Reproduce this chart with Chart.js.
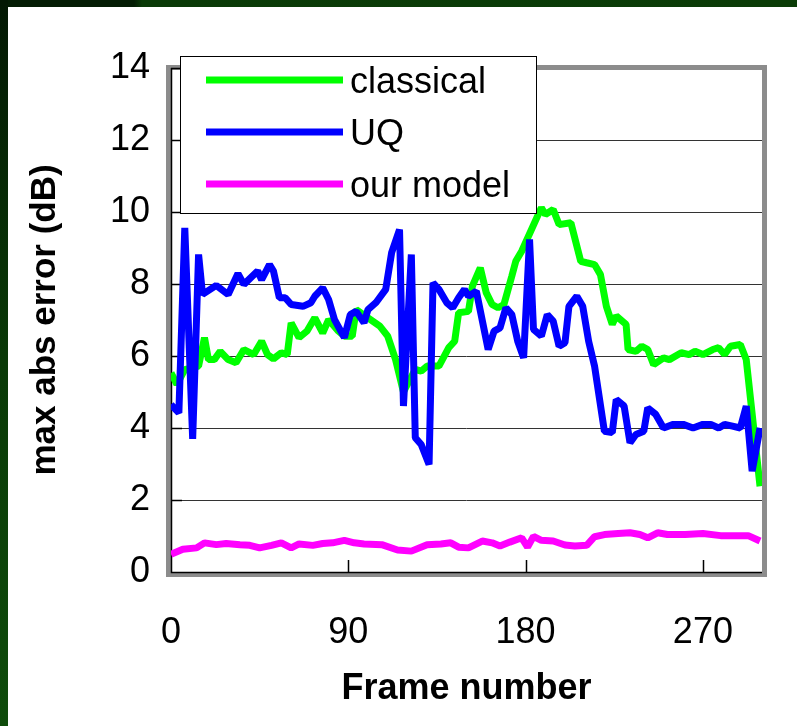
<!DOCTYPE html>
<html>
<head>
<meta charset="utf-8">
<title>max abs error</title>
<script src="https://cdn.jsdelivr.net/npm/chart.js@4.4.0/dist/chart.umd.min.js"></script>
<style>
  html, body { margin: 0; padding: 0; }
  body { width: 797px; height: 726px; position: relative; overflow: hidden; background: #fff; }
  #topbar {
    position: absolute; left: 0; top: 0; width: 797px; height: 7px;
    background: linear-gradient(90deg, #041d04 0, #041d04 134px, #0a3a07 142px, #0b3c07 100%);
  }
  #sidebar {
    position: absolute; left: 0; top: 0; width: 8px; height: 726px;
    background: linear-gradient(180deg, #031803 0, #0a3a07 50%, #0f4c0b 100%);
  }
  #wrap { position: absolute; left: 8px; top: 7px; width: 789px; height: 719px; background: #fff; }
</style>
</head>
<body>
<div id="topbar"></div>
<div id="sidebar"></div>
<div id="wrap"><canvas id="errChart" width="789" height="719"></canvas></div>

<script>
// frame numbers and max abs error (dB) per method
const classicalFrames = [0, 3, 7, 14, 17, 19, 22, 25, 29, 33, 37, 42, 46, 49, 52, 56, 59, 61, 65, 69,
  73, 77, 80, 85, 88, 92, 94, 100, 106, 110, 114, 118, 124, 127, 130, 136, 141, 144, 146, 151,
  153, 157, 160, 163, 166, 169, 173, 175, 178, 188, 190, 194, 197, 203, 208, 211, 215, 218, 221, 224,
  226, 231, 232, 236, 239, 242, 245, 250, 253, 259, 263, 266, 270, 275, 278, 281, 284, 289, 292, 299];
const classicalErr = [5.53, 5.21, 5.62, 5.72, 6.51, 5.90, 5.90, 6.13, 5.90, 5.81, 6.18, 6.04, 6.41, 6.04, 5.92, 6.09, 6.04, 6.92, 6.51, 6.69,
  7.06, 6.64, 7.01, 6.69, 6.55, 6.55, 7.29, 7.06, 6.83, 6.55, 5.90, 5.00, 5.63, 5.58, 5.72, 5.72, 6.23, 6.41, 7.20, 7.24,
  7.94, 8.45, 7.76, 7.43, 7.34, 7.43, 8.22, 8.63, 8.91, 10.12, 9.93, 10.07, 9.65, 9.70, 8.63, 8.59, 8.54, 8.26, 7.38, 6.88,
  7.11, 6.88, 6.18, 6.13, 6.27, 6.18, 5.76, 5.95, 5.90, 6.09, 6.04, 6.13, 6.04, 6.18, 6.23, 6.04, 6.27, 6.32, 5.90, 2.38];

const uqFrames = [0, 4, 7, 11, 14, 16, 23, 29, 34, 37, 44, 46, 50, 52, 55, 58, 61, 67, 71, 73,
  77, 80, 83, 88, 91, 94, 98, 100, 104, 109, 112, 116, 118, 122, 124, 127, 131, 133, 136, 140,
  143, 146, 149, 151, 155, 161, 164, 167, 170, 173, 176, 179, 182, 184, 188, 191, 194, 197, 200, 202,
  206, 209, 212, 215, 220, 224, 226, 230, 233, 236, 240, 242, 246, 250, 255, 260, 265, 270, 274, 278,
  281, 285, 289, 292, 295, 299];
const uqErr = [4.65, 4.42, 9.56, 3.70, 8.82, 7.71, 7.96, 7.71, 8.29, 7.99, 8.36, 8.12, 8.54, 8.36, 7.62, 7.62, 7.43, 7.38, 7.48, 7.66,
  7.89, 7.57, 7.01, 6.51, 7.15, 7.24, 6.92, 7.29, 7.48, 7.85, 8.87, 9.51, 4.61, 8.82, 3.73, 3.54, 2.99, 8.03, 7.85, 7.48,
  7.34, 7.62, 7.85, 7.66, 7.80, 6.18, 6.69, 6.78, 7.34, 7.15, 6.41, 5.95, 9.24, 6.74, 6.55, 7.15, 6.97, 6.27, 6.37, 7.38,
  7.66, 7.38, 6.41, 5.72, 3.91, 3.87, 4.79, 4.61, 3.59, 3.82, 3.91, 4.56, 4.38, 4.00, 4.10, 4.10, 4.00, 4.10, 4.10, 4.00,
  4.10, 4.05, 4.00, 4.61, 2.80, 4.00];

const modelFrames = [0, 6, 13, 17, 23, 28, 35, 40, 45, 51, 56, 61, 65, 72, 77, 82, 88, 93, 98, 107,
  115, 122, 130, 137, 142, 146, 151, 158, 163, 167, 172, 178, 181, 184, 188, 194, 200, 205, 211, 215,
  220, 227, 233, 238, 242, 247, 252, 261, 270, 279, 288, 293, 299];
const modelErr = [0.49, 0.63, 0.67, 0.81, 0.76, 0.79, 0.76, 0.74, 0.67, 0.74, 0.81, 0.67, 0.78, 0.74, 0.79, 0.81, 0.88, 0.81, 0.78, 0.76,
  0.61, 0.58, 0.76, 0.78, 0.81, 0.69, 0.67, 0.86, 0.81, 0.72, 0.83, 0.95, 0.69, 0.99, 0.88, 0.86, 0.75, 0.72, 0.74, 0.98,
  1.04, 1.07, 1.09, 1.04, 0.95, 1.09, 1.04, 1.04, 1.07, 1.01, 1.01, 1.01, 0.86];

const xTicks = [0, 90, 180, 270];
const yTicks = [0, 2, 4, 6, 8, 10, 12, 14];

const FONT = "'Liberation Sans', Arial, sans-serif";

function toPoints(frames, vals) {
  return frames.map((f, i) => ({ x: f, y: vals[i] }));
}

// gray plot-area frame, black axes and inward tick marks
const plotFrame = {
  id: 'plotFrame',
  beforeDatasetsDraw(chart) {
    const { ctx, chartArea: a, scales: { x, y } } = chart;
    ctx.save();
    ctx.fillStyle = '#8c8c8c';
    ctx.fillRect(a.left - 5, a.top - 3, 5, a.height + 8);
    ctx.fillRect(a.right, a.top - 3, 5, a.height + 8);
    ctx.fillRect(a.left - 5, a.top - 3, a.width + 10, 5);
    ctx.fillRect(a.left - 5, a.bottom + 1, a.width + 10, 4);

    ctx.strokeStyle = '#000';
    ctx.lineWidth = 1.5;
    ctx.beginPath();
    ctx.moveTo(a.left + 0.5, a.top);
    ctx.lineTo(a.left + 0.5, a.bottom + 0.5);
    ctx.lineTo(a.right, a.bottom + 0.5);
    yTicks.forEach(v => {
      const py = Math.round(y.getPixelForValue(v)) + 0.5;
      ctx.moveTo(a.left, py);
      ctx.lineTo(a.left + 11, py);
    });
    xTicks.forEach(v => {
      const px = Math.round(x.getPixelForValue(v)) + 0.5;
      ctx.moveTo(px, a.bottom);
      ctx.lineTo(px, a.bottom - 12);
    });
    ctx.stroke();
    ctx.restore();
  }
};

// boxed legend sitting over the top of the plot
const legendBox = {
  id: 'legendBox',
  afterDraw(chart) {
    const ctx = chart.ctx;
    ctx.save();
    ctx.fillStyle = '#fff';
    ctx.fillRect(172.5, 49.5, 356, 157);
    ctx.strokeStyle = '#000';
    ctx.lineWidth = 1;
    ctx.strokeRect(172.5, 49.5, 356, 157);
    ctx.font = '36px ' + FONT;
    ctx.textBaseline = 'alphabetic';
    chart.data.datasets.forEach((ds, i) => {
      const ly = 73 + i * 52;
      ctx.strokeStyle = ds.borderColor;
      ctx.lineWidth = 7;
      ctx.beginPath();
      ctx.moveTo(198, ly);
      ctx.lineTo(335, ly);
      ctx.stroke();
      ctx.fillStyle = '#000';
      ctx.fillText(ds.label, 342, 86 + i * 52);
    });
    ctx.restore();
  }
};

function createChart() {
  const ctx = document.getElementById('errChart').getContext('2d');
  new Chart(ctx, {
    type: 'line',
    data: {
      datasets: [
        { label: 'classical', data: toPoints(classicalFrames, classicalErr), borderColor: '#00ff00', order: 3 },
        { label: 'UQ', data: toPoints(uqFrames, uqErr), borderColor: '#0000ff', order: 2 },
        { label: 'our model', data: toPoints(modelFrames, modelErr), borderColor: '#ff00ff', order: 1 }
      ]
    },
    options: {
      responsive: false,
      animation: false,
      devicePixelRatio: 1,
      layout: { padding: { left: 0, top: 61, right: 35, bottom: 0 } },
      elements: {
        line: { borderWidth: 7, tension: 0, fill: false, borderJoinStyle: 'bevel' },
        point: { radius: 0, hoverRadius: 0 }
      },
      plugins: {
        legend: { display: false },
        tooltip: { enabled: false }
      },
      scales: {
        x: {
          type: 'linear',
          min: 0,
          max: 300,
          afterBuildTicks: s => { s.ticks = xTicks.map(v => ({ value: v })); },
          afterFit: s => { s.height = 154; },
          grid: { display: false, drawTicks: false },
          border: { display: false },
          ticks: { color: '#000', font: { family: FONT, size: 36 }, padding: 39, maxRotation: 0 },
          title: {
            display: true, text: 'Frame number', color: '#000',
            font: { family: FONT, size: 36, weight: 'bold' }, padding: { top: 0, bottom: 15 }
          }
        },
        y: {
          min: 0,
          max: 14,
          afterBuildTicks: s => { s.ticks = yTicks.map(v => ({ value: v })); },
          afterFit: s => { s.width = 163; },
          grid: { color: '#333', lineWidth: 1, drawTicks: false },
          border: { display: false },
          ticks: { color: '#000', font: { family: FONT, size: 36 }, padding: 21 },
          title: {
            display: true, text: 'max abs error (dB)', color: '#000',
            font: { family: FONT, size: 35, weight: 'bold' }, padding: { top: 16, bottom: 0 }
          }
        }
      }
    },
    plugins: [plotFrame, legendBox]
  });
}

document.addEventListener('DOMContentLoaded', function () {
  createChart();
});
</script>
</body>
</html>
